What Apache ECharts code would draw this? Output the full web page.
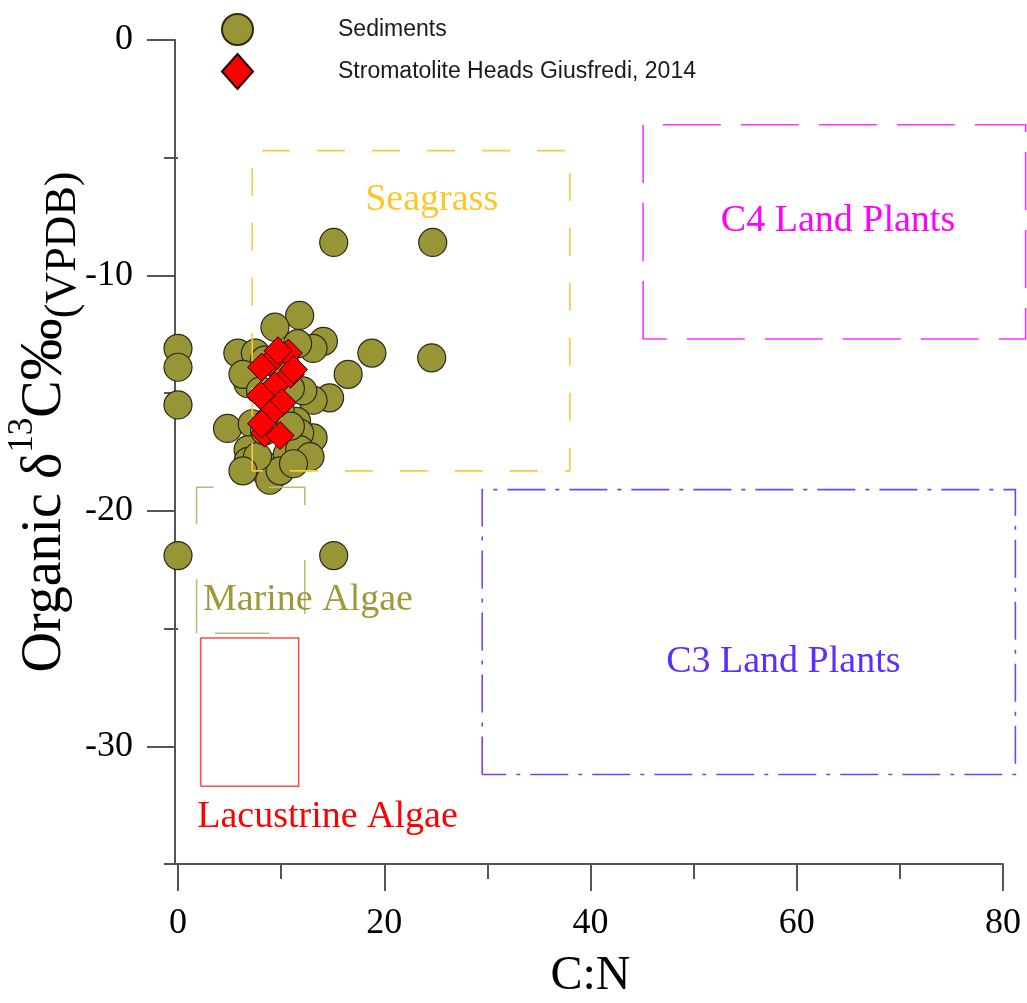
<!DOCTYPE html>
<html>
<head>
<meta charset="utf-8">
<title>C:N vs organic δ13C</title>
<script src="https://cdn.jsdelivr.net/npm/echarts@6/dist/echarts.min.js"></script>
<style>
  html, body { margin: 0; padding: 0; background: #fff; }
  #chart { width: 1027px; height: 1003px; }
</style>
</head>
<body>
<div id="chart"></div>
<script>
// Sediment samples: [C:N, δ13C]
const sediments = [
  [0, -13.1], [0, -13.9], [0, -15.5], [0, -21.9],
  [15.1, -21.9], [15.1, -8.6], [24.7, -8.6], [24.6, -13.5],
  [11.8, -11.7], [9.4, -12.2], [14.1, -12.8], [13.1, -13.1],
  [5.8, -13.3], [7.5, -13.3], [11.6, -12.9], [18.8, -13.3],
  [16.5, -14.2], [6.8, -14.6], [6.3, -14.2], [14.7, -15.2],
  [13.1, -15.3], [12.1, -14.9], [4.8, -16.5], [7.2, -16.3],
  [11.5, -16.2], [13.1, -16.9], [11.8, -16.7], [6.8, -17.4],
  [6.8, -17.9], [8.2, -18.0], [8.6, -18.4], [10.6, -17.6],
  [11.8, -17.4], [12.8, -17.7], [8.9, -18.7], [9.9, -18.3],
  [11.2, -18.0], [7.7, -17.7], [6.3, -18.3], [10.9, -14.8],
  [8.0, -14.9], [8.4, -13.6], [10.4, -13.8], [9.9, -15.7],
  [8.4, -16.6], [10.9, -16.4]
];

// Stromatolite heads (Giusfredi, 2014): [C:N, δ13C]
const stromatolites = [
  [10.7, -13.3], [8.9, -13.7], [8.1, -13.9], [10.9, -14.2],
  [9.4, -14.7], [8.0, -15.1], [10.1, -15.4], [8.9, -15.9],
  [8.4, -16.7], [9.9, -16.8], [8.1, -16.3], [9.7, -13.2],
  [11.2, -14.0]
];

// Source fields: [C:N min, C:N max, δ13C top, δ13C bottom]
const regionNames = ['Seagrass', 'Marine Algae', 'Lacustrine Algae', 'C4 Land Plants', 'C3 Land Plants'];
const regionBounds = [
  [7.2, 38.0, -4.7, -18.3],
  [1.8, 12.3, -19.0, -25.2],
  [2.2, 11.7, -25.4, -31.7],
  [45.1, 82.2, -3.6, -12.7],
  [29.5, 81.2, -19.1, -31.2]
];
// Position of each field's name: [C:N, δ13C]
const regionLabelPos = [
  [24.6, -6.8], [12.6, -23.8], [14.5, -33.0], [64.0, -7.7], [58.7, -26.4]
];

const xMajorTicks = [0, 20, 40, 60, 80];
const yMajorTicks = [0, -10, -20, -30];
const yMinorTicks = [-5, -15, -25, -35];

const regionColors = ['#FBC93A', '#BDB97A', '#FF4D4D', '#FF33FF', '#7340FF'];
const regionTextColors = ['#FFC629', '#9E9838', '#FF0000', '#FF00FF', '#5A2EFF'];
const regionDash = [[28, 27], [54, 55], null, [58, 20], [38, 10, 4, 10]];

const serif = '"Liberation Serif", "Times New Roman", serif';

const chart = echarts.init(document.getElementById('chart'), null, { renderer: 'canvas' });

const axisLineStyle = { color: '#555', width: 2 };

// Each field outline is traced from its lower-left corner, clockwise
function renderField(params, api) {
  const x0 = api.value(0), x1 = api.value(1), yt = api.value(2), yb = api.value(3);
  const i = params.dataIndex;
  const pts = [[x0, yb], [x0, yt], [x1, yt], [x1, yb], [x0, yb]].map(p => api.coord(p));
  return {
    type: 'polyline',
    shape: { points: pts },
    style: {
      stroke: regionColors[i],
      lineWidth: 1.6,
      fill: null,
      lineDash: regionDash[i]
    }
  };
}

chart.setOption({
  backgroundColor: '#fff',
  animation: false,
  grid: { left: 178, right: 24, top: 40, bottom: 139, containLabel: false, outerBoundsMode: 'none' },
  legend: {
    orient: 'vertical',
    left: 216,
    top: 8,
    itemWidth: 31,
    itemHeight: 35,
    itemGap: 7,
    symbolKeepAspect: false,
    data: [
      { name: 'Sediments', icon: 'circle' },
      { name: 'Stromatolite Heads Giusfredi, 2014', icon: 'diamond' }
    ],
    textStyle: {
      fontFamily: '"Liberation Sans", Arial, sans-serif',
      fontSize: 23,
      color: '#1a1a1a',
      padding: [0, 0, 0, 80]
    }
  },
  xAxis: {
    type: 'value',
    min: 0,
    max: 80,
    interval: 20,
    name: 'C:N',
    nameLocation: 'middle',
    nameGap: 88,
    nameTextStyle: { fontFamily: serif, fontSize: 48, color: '#000' },
    axisLine: { show: true, onZero: false, lineStyle: axisLineStyle },
    axisTick: { show: true, inside: false, length: 27, lineStyle: axisLineStyle },
    minorTick: { show: true, splitNumber: 2, length: 15, lineStyle: axisLineStyle },
    axisLabel: {
      fontFamily: serif, fontSize: 36, color: '#000', margin: 42,
      customValues: xMajorTicks
    },
    splitLine: { show: false }
  },
  yAxis: [
    {
      type: 'value',
      position: 'left',
      offset: 3,
      min: -35,
      max: 0,
      interval: 5,
      name: 'Organic δ{sup|13}C{pm|‰}{sub|(VPDB)}',
      nameLocation: 'middle',
      nameRotate: 90,
      nameGap: 90,
      nameMoveOverlap: false,
      nameTextStyle: {
        fontFamily: serif, fontSize: 56, color: '#000',
        lineHeight: 80,
        padding: [0, 0, 0, 60],
        rich: {
          sup: { fontFamily: serif, fontSize: 35, lineHeight: 35, color: '#000', verticalAlign: 'top' },
          pm: { fontFamily: serif, fontSize: 62, color: '#000' },
          sub: { fontFamily: serif, fontSize: 44, lineHeight: 44, color: '#000', verticalAlign: 'bottom' }
        }
      },
      axisLine: { show: true, onZero: false, lineStyle: axisLineStyle },
      axisTick: { show: true, inside: false, length: 28, lineStyle: axisLineStyle, customValues: yMajorTicks },
      axisLabel: {
        fontFamily: serif, fontSize: 36, color: '#000', margin: 42,
        customValues: yMajorTicks
      },
      splitLine: { show: false }
    },
    {
      type: 'value',
      position: 'left',
      offset: 3,
      min: -35,
      max: 0,
      interval: 5,
      axisLine: { show: false },
      axisTick: { show: true, inside: false, length: 14, lineStyle: axisLineStyle, customValues: yMinorTicks },
      axisLabel: { show: false },
      splitLine: { show: false }
    }
  ],
  series: [
    {
      name: 'Sediments',
      type: 'scatter',
      data: sediments,
      symbol: 'circle',
      symbolSize: 28,
      clip: false,
      z: 2,
      itemStyle: { color: '#979536', borderColor: '#2a2a18', borderWidth: 1.2, opacity: 1 }
    },
    {
      name: 'Fields',
      type: 'custom',
      renderItem: renderField,
      data: regionBounds,
      encode: { x: [0, 1], y: [2, 3] },
      clip: false,
      silent: true,
      z: 3
    },
    {
      name: 'Stromatolite Heads Giusfredi, 2014',
      type: 'scatter',
      data: stromatolites,
      symbol: 'diamond',
      symbolSize: 28,
      z: 5,
      itemStyle: { color: '#FF0000', borderColor: '#1a0000', borderWidth: 1, opacity: 1 }
    },
    {
      name: 'Field names',
      type: 'scatter',
      silent: true,
      clip: false,
      z: 6,
      symbolSize: 0,
      itemStyle: { opacity: 1 },
      data: regionLabelPos.map((p, i) => ({
        name: regionNames[i],
        value: p,
        label: { color: regionTextColors[i] }
      })),
      label: {
        show: true,
        position: 'inside',
        formatter: '{b}',
        fontFamily: serif,
        fontSize: 38
      }
    }
  ]
});
</script>
</body>
</html>
